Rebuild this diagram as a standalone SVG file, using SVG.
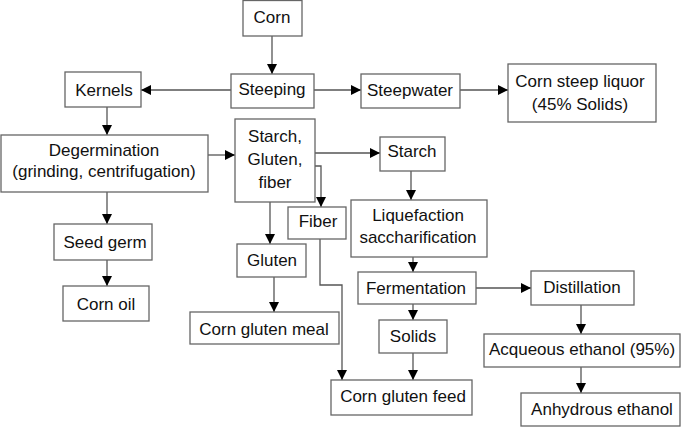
<svg xmlns="http://www.w3.org/2000/svg" width="685" height="427" viewBox="0 0 685 427">
<defs>
<marker id="ah" markerUnits="userSpaceOnUse" markerWidth="10" markerHeight="10" refX="10" refY="5" orient="auto">
<path d="M0,0 L10,5 L0,10 z" fill="#000"/>
</marker>
<style>
rect{fill:#fff;stroke:#666;stroke-width:1.3}
text{font-family:"Liberation Sans",Arial,sans-serif;font-size:17px;fill:#111;text-anchor:middle}
.c path{fill:none;stroke:#555;stroke-width:1.3;marker-end:url(#ah)}
</style>
</defs>
<rect x="0" y="0" width="685" height="427" style="fill:#fff;stroke:none"/>
<g class="c" id="connectors">
<path d="M272,36 V74"/>
<path d="M231,90 H141"/>
<path d="M314,90 H361"/>
<path d="M460,90 H508"/>
<path d="M107,107 V135"/>
<path d="M208,155 H235"/>
<path d="M315,153 H380"/>
<path d="M315,166 H321 V207"/>
<path d="M270,202 V244"/>
<path d="M107,192 V224"/>
<path d="M107,260 V286"/>
<path d="M274,277 V312"/>
<path d="M320,239 V285 H342 V380"/>
<path d="M411,171 V200"/>
<path d="M413,257 V272"/>
<path d="M476,288 H531"/>
<path d="M413,304 V320"/>
<path d="M413,353 V380"/>
<path d="M581,305 V334"/>
<path d="M581,367 V393"/>
</g>
<g id="corn"><rect x="243" y="0.5" width="59" height="35.5"/><text x="272" y="23">Corn</text></g>
<g id="steeping"><rect x="231" y="74" width="83" height="34"/><text x="272" y="95">Steeping</text></g>
<g id="kernels"><rect x="65" y="72" width="76" height="35"/><text x="104" y="96">Kernels</text></g>
<g id="steepwater"><rect x="361" y="74" width="99" height="34"/><text x="410" y="96">Steepwater</text></g>
<g id="liquor"><rect x="508" y="64" width="148" height="58"/><text x="580" y="87">Corn steep liquor</text><text x="580" y="110">(45% Solids)</text></g>
<g id="degermination"><rect x="1" y="135" width="207" height="57"/><text x="104" y="156">Degermination</text><text x="104" y="177">(grinding, centrifugation)</text></g>
<g id="sgf"><rect x="235" y="119" width="80" height="83"/><text x="275" y="142">Starch,</text><text x="275" y="165">Gluten,</text><text x="275" y="188">fiber</text></g>
<g id="starch"><rect x="380" y="137" width="65" height="34"/><text x="412" y="157">Starch</text></g>
<g id="fiber"><rect x="288" y="207" width="58" height="32"/><text x="318" y="227">Fiber</text></g>
<g id="liquefaction"><rect x="351" y="200" width="136" height="57"/><text x="418" y="221">Liquefaction</text><text x="418" y="243">saccharification</text></g>
<g id="seedgerm"><rect x="54" y="224" width="98" height="36"/><text x="105" y="248">Seed germ</text></g>
<g id="cornoil"><rect x="63" y="286" width="86" height="35"/><text x="106" y="310">Corn oil</text></g>
<g id="gluten"><rect x="237" y="244" width="69" height="33"/><text x="272" y="266">Gluten</text></g>
<g id="glutenmeal"><rect x="190" y="312" width="149" height="32"/><text x="264" y="335">Corn gluten meal</text></g>
<g id="fermentation"><rect x="358" y="272" width="118" height="32"/><text x="416" y="294">Fermentation</text></g>
<g id="distillation"><rect x="531" y="271" width="103" height="34"/><text x="582" y="293">Distillation</text></g>
<g id="solids"><rect x="379" y="320" width="68" height="33"/><text x="413" y="342">Solids</text></g>
<g id="acqueous"><rect x="484" y="334" width="196" height="33"/><text x="582" y="355">Acqueous ethanol (95%)</text></g>
<g id="glutenfeed"><rect x="331" y="380" width="141" height="35"/><text x="403" y="402">Corn gluten feed</text></g>
<g id="anhydrous"><rect x="521" y="393" width="159" height="33"/><text x="602" y="415">Anhydrous ethanol</text></g>
</svg>
